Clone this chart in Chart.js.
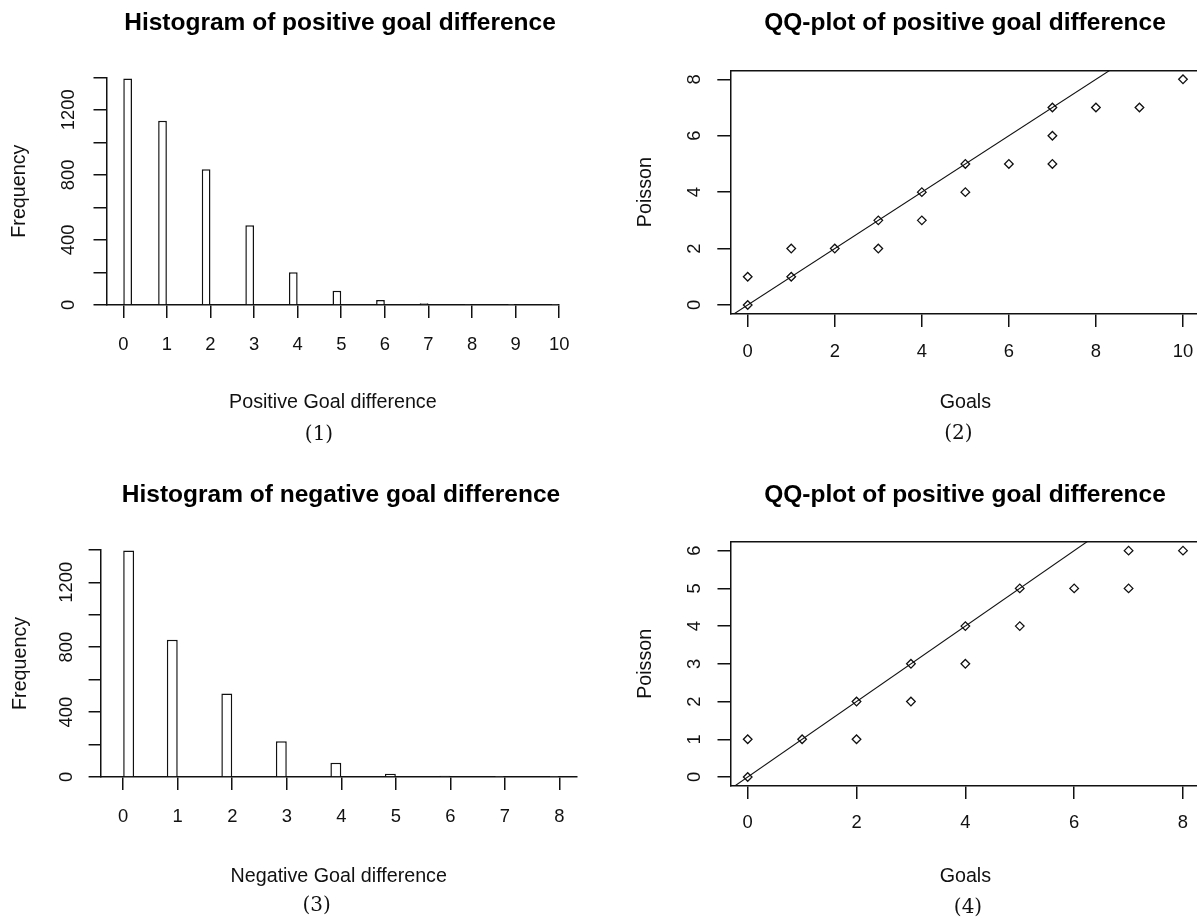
<!DOCTYPE html>
<html>
<head>
<meta charset="utf-8">
<script src="https://cdn.jsdelivr.net/npm/chart.js@4.4.1/dist/chart.umd.min.js"></script>
<style>
  html, body { margin: 0; padding: 0; background: #fff; width: 1197px; height: 922px; overflow: hidden; position: relative; }
  canvas { position: absolute; }
</style>
</head>
<body>
<canvas id="c1" width="672" height="461" style="left:0px;top:0px"></canvas>
<canvas id="c2" width="677" height="461" style="left:620px;top:0px"></canvas>
<canvas id="c3" width="674" height="461" style="left:0px;top:461px"></canvas>
<canvas id="c4" width="676" height="461" style="left:620px;top:461px"></canvas>
<script>
// ---------------- DATA ----------------
// Histogram of positive goal difference
const posGoalBins = [0, 1, 2, 3, 4, 5, 6, 7, 8, 9, 10];
const posGoalFreq = [1392, 1133, 835, 490, 202, 87, 31, 10, 3, 1, 1];
// Histogram of negative goal difference
const negGoalBins = [0, 1, 2, 3, 4, 5, 6, 7, 8];
const negGoalFreq = [1395, 846, 514, 220, 88, 20, 7, 2, 1];
// Histogram axes
const histYTicks = [0, 200, 400, 600, 800, 1000, 1200, 1400];
const histYLabels = [0, 400, 800, 1200];
const posXTicks = [0, 1, 2, 3, 4, 5, 6, 7, 8, 9, 10];
const negXTicks = [0, 1, 2, 3, 4, 5, 6, 7, 8];
// QQ-plot (2)
const qq2Goals   = [0, 0, 1, 1, 2, 3, 3, 4, 4, 5, 5, 6, 7, 7, 7, 8, 9, 10];
const qq2Poisson = [0, 1, 1, 2, 2, 2, 3, 3, 4, 4, 5, 5, 5, 6, 7, 7, 7, 8];
const qq2XTicks = [0, 2, 4, 6, 8, 10];
const qq2YTicks = [0, 2, 4, 6, 8];
const qq2Line = { intercept: 0, slope: 1 };
// QQ-plot (4)
const qq4Goals   = [0, 0, 1, 2, 2, 3, 3, 4, 4, 5, 5, 6, 7, 7, 8];
const qq4Poisson = [0, 1, 1, 2, 1, 3, 2, 4, 3, 5, 4, 5, 6, 5, 6];
const qq4XTicks = [0, 2, 4, 6, 8];
const qq4YTicks = [0, 1, 2, 3, 4, 5, 6];
const qq4Line = { intercept: 0, slope: 1 };

// ---------------- STYLE ----------------
const SANS = "'Liberation Sans', Arial, sans-serif";
const INK = '#111';
const LW = 1.5;
const TICK_FONT = { family: SANS, size: 18.4, lineHeight: 1.2 };
const AXIS_TITLE_FONT = { family: SANS, size: 19.7, lineHeight: 1.2 };
const MAIN_TITLE_FONT = { family: SANS, size: 24.5, weight: 'bold', lineHeight: 1.2 };
const HIST_BIN_WIDTH = 0.2; // R hist bins: [0,0.2], (k-0.2,k]

function binCenter(k) { return k === 0 ? HIST_BIN_WIDTH / 2 : k - HIST_BIN_WIDTH / 2; }

const captionPlugin = {
  id: 'caption',
  afterDraw(chart, args, opts) {
    const ctx = chart.ctx;
    ctx.save();
    ctx.font = "20px 'DejaVu Serif', serif";
    ctx.fillStyle = '#111';
    ctx.textAlign = 'center';
    ctx.textBaseline = 'middle';
    ctx.fillText(opts.text, opts.x, opts.y);
    ctx.restore();
  }
};

function spacer(pos, size) {
  return {
    type: 'linear', position: pos, display: true,
    ticks: { display: false }, grid: { display: false }, border: { display: false },
    afterFit: s => { s.width = size; }
  };
}

function xAxis(p) {
  return {
    type: 'linear', position: 'bottom', min: p.xRange[0], max: p.xRange[1], offset: false,
    afterBuildTicks: s => { s.ticks = p.xTicks.map(v => ({ value: v })); },
    afterFit: s => { s.height = p.xh; },
    ticks: { font: TICK_FONT, color: INK, padding: p.xPad, autoSkip: false, maxRotation: 0, minRotation: 0 },
    grid: { display: true, drawOnChartArea: false, drawTicks: true, tickLength: 13, color: INK, lineWidth: LW, offset: false },
    border: { display: true, color: INK, width: LW },
    title: { display: true, text: p.xTitle, font: AXIS_TITLE_FONT, color: INK, padding: { top: 0, bottom: 0 } }
  };
}

function yAxis(p, labelFn) {
  return {
    type: 'linear', position: 'left', min: p.yRange[0], max: p.yRange[1],
    afterBuildTicks: s => { s.ticks = p.yTicks.map(v => ({ value: v })); },
    afterFit: s => { s.width = p.yw; },
    ticks: { font: TICK_FONT, color: INK, padding: p.yPad, autoSkip: false, minRotation: 90, maxRotation: 90, crossAlign: 'center', callback: labelFn },
    grid: { display: true, drawOnChartArea: false, drawTicks: true, tickLength: p.yTl, color: INK, lineWidth: LW },
    border: { display: true, color: INK, width: LW },
    title: { display: true, text: p.yTitle, font: AXIS_TITLE_FONT, color: INK, padding: { top: 0, bottom: 0 } }
  };
}

function commonPlugins(p) {
  return {
    legend: { display: false },
    tooltip: { enabled: false },
    title: { display: true, text: p.title, font: MAIN_TITLE_FONT, color: '#000', padding: { top: 0, bottom: p.titleGap } },
    caption: p.caption
  };
}

function histChart(id, p) {
  new Chart(document.getElementById(id), {
    type: 'bar',
    data: {
      datasets: [{
        data: p.bins.map((b, i) => ({ x: binCenter(b), y: p.freq[i] })),
        backgroundColor: '#fff', borderColor: INK, borderWidth: LW, borderSkipped: 'start',
        categoryPercentage: 0.25, barPercentage: 1
      }]
    },
    options: {
      responsive: false, animation: false, devicePixelRatio: 1,
      layout: { padding: p.pad },
      plugins: commonPlugins(p),
      scales: {
        x: xAxis(p),
        y: yAxis(p, v => (histYLabels.includes(v) ? String(v) : '')),
        yR: spacer('right', p.spacer)
      }
    },
    plugins: [captionPlugin]
  });
}

function qqChart(id, p) {
  const linePts = p.xRange.map(x => ({ x: x, y: p.line.intercept + p.line.slope * x }));
  new Chart(document.getElementById(id), {
    type: 'scatter',
    data: {
      datasets: [
        {
          type: 'scatter',
          data: p.goals.map((g, i) => ({ x: g, y: p.poisson[i] })),
          pointStyle: 'rectRot', pointRadius: 4.3, borderWidth: 1.3,
          borderColor: INK, backgroundColor: 'rgba(0,0,0,0)', showLine: false
        },
        {
          type: 'line', data: linePts, borderColor: INK, borderWidth: 1.1,
          pointRadius: 0, fill: false, clip: 0
        }
      ]
    },
    options: {
      responsive: false, animation: false, devicePixelRatio: 1,
      layout: { padding: p.pad },
      plugins: commonPlugins(p),
      scales: {
        x: xAxis(p),
        y: yAxis(p, v => String(v)),
        xTop: {
          type: 'linear', position: 'top', display: true, min: p.xRange[0], max: p.xRange[1],
          ticks: { display: false }, grid: { display: false },
          border: { display: true, color: INK, width: LW },
          afterFit: s => { s.height = 0; }
        },
        yR: spacer('right', p.spacer)
      }
    },
    plugins: [captionPlugin]
  });
}

histChart('c1', {
  bins: posGoalBins, freq: posGoalFreq,
  xTicks: posXTicks, yTicks: histYTicks,
  xRange: [-0.385, 10], yRange: [0, 1400],
  title: 'Histogram of positive goal difference', titleGap: 39.1,
  xTitle: 'Positive Goal difference', yTitle: 'Frequency',
  pad: { left: 8.2, top: 8.8, right: 0.2, bottom: 47 },
  yw: 98.3, xh: 109, spacer: 112.6,
  xPad: 16, yPad: 4.2, yTl: 13,
  caption: { text: '(1)', x: 319, y: 435 }
});

qqChart('c2', {
  goals: qq2Goals, poisson: qq2Poisson, line: qq2Line,
  xTicks: qq2XTicks, yTicks: qq2YTicks,
  xRange: [-0.4, 10.4], yRange: [-0.32, 8.32],
  title: 'QQ-plot of positive goal difference', titleGap: 32.1,
  xTitle: 'Goals', yTitle: 'Poisson',
  pad: { left: 13.7, top: 8.8, right: 0.7, bottom: 47 },
  yw: 96.6, xh: 100, spacer: 95.9,
  xPad: 13.7, yPad: 17.2, yTl: 13,
  caption: { text: '(2)', x: 338.3, y: 434 }
});

histChart('c3', {
  bins: negGoalBins, freq: negGoalFreq,
  xTicks: negXTicks, yTicks: histYTicks,
  xRange: [-0.4145, 8.321], yRange: [0, 1400],
  title: 'Histogram of negative goal difference', titleGap: 39.6,
  xTitle: 'Negative Goal difference', yTitle: 'Frequency',
  pad: { left: 8.5, top: 19.8, right: 0.5, bottom: 34 },
  yw: 92.1, xh: 111, spacer: 96.6,
  xPad: 15.7, yPad: 1.5, yTl: 12,
  caption: { text: '(3)', x: 316.7, y: 445 }
});

qqChart('c4', {
  goals: qq4Goals, poisson: qq4Poisson, line: qq4Line,
  xTicks: qq4XTicks, yTicks: qq4YTicks,
  xRange: [-0.32, 8.32], yRange: [-0.24, 6.24],
  title: 'QQ-plot of positive goal difference', titleGap: 31.4,
  xTitle: 'Goals', yTitle: 'Poisson',
  pad: { left: 14, top: 19.8, right: 0, bottom: 34 },
  yw: 96.3, xh: 101.95, spacer: 95.6,
  xPad: 13.3, yPad: 17, yTl: 12.8,
  caption: { text: '(4)', x: 348, y: 447 }
});
</script>
</body>
</html>
